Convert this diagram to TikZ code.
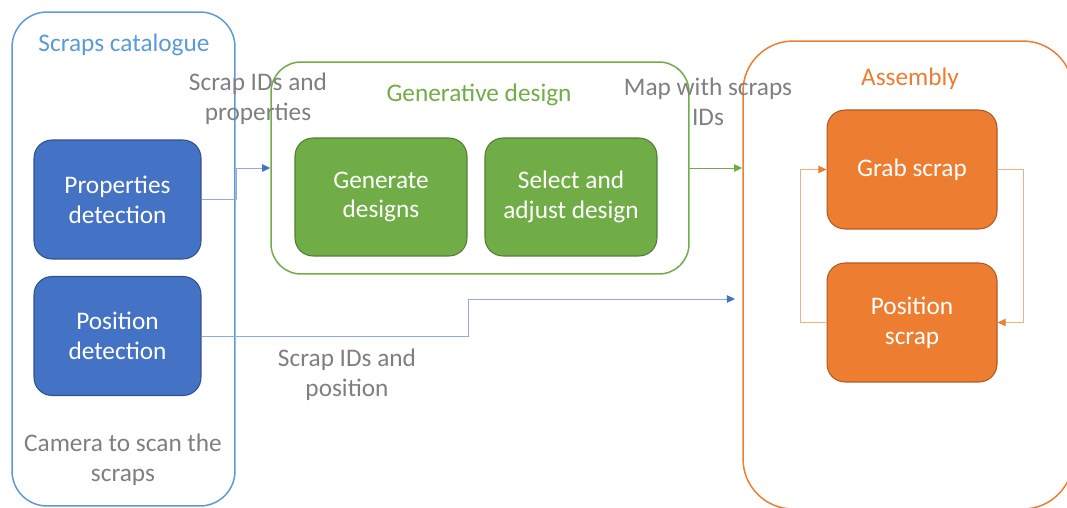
\documentclass[tikz,border=0pt]{standalone}
\usepackage{fontspec}
\setmainfont{Carlito}
\usetikzlibrary{arrows.meta}
\definecolor{catblue}{HTML}{5B9BD5}
\definecolor{bfill}{HTML}{4472C4}
\definecolor{bdraw}{HTML}{2F528F}
\definecolor{gfill}{HTML}{70AD47}
\definecolor{gdraw}{HTML}{507E32}
\definecolor{ofill}{HTML}{ED7D31}
\definecolor{odraw}{HTML}{AE5A21}
\definecolor{lorange}{HTML}{F4B183}
\definecolor{lblue}{HTML}{8FAADC}
\definecolor{labgray}{HTML}{7F7F7F}
\begin{document}
\begin{tikzpicture}[x=0.02cm,y=-0.02cm,
  font=\fontsize{14.4}{17}\selectfont,
  container/.style={draw, line width=0.85pt, inner sep=0pt},
  boxnode/.style={line width=0.6pt, rounded corners=0.36cm, text=white, align=center, inner sep=0pt},
  bluebox/.style={boxnode, fill=bfill, draw=bdraw, minimum width=3.34cm, minimum height=2.38cm},
  greenbox/.style={boxnode, fill=gfill, draw=gdraw, minimum width=3.44cm, minimum height=2.36cm},
  orangebox/.style={boxnode, fill=ofill, draw=odraw, minimum width=3.4cm, minimum height=2.38cm},
  label/.style={text=labgray, align=center, inner sep=0pt},
  conn/.style={line width=0.55pt, -{Triangle[length=4.6pt,width=4.2pt]}},
]
\useasboundingbox (0,0) rectangle (1067,507);

% containers
\node[container, draw=catblue, minimum width=4.46cm, minimum height=9.88cm, rounded corners=0.7cm] (cat) at (123.5,259) {};
\node[container, draw=gfill, minimum width=8.36cm, minimum height=4.24cm, rounded corners=0.6cm] (gen) at (480,168) {};
\node[container, draw=ofill, minimum width=6.6cm, minimum height=9.36cm, rounded corners=1.0cm] (asm) at (908,275) {};

% titles
\node[text=catblue, inner sep=0pt] (cattitle) at (124,45) {Scraps catalogue};
\node[text=gfill, inner sep=0pt] (gentitle) at (479,95) {Generative design};
\node[text=ofill, inner sep=0pt] (asmtitle) at (910,79) {Assembly};

% boxes
\node[bluebox] (prop) at (117.5,199.5) {Properties\\detection};
\node[bluebox] (pos) at (117.5,336) {Position\\detection};
\node[greenbox] (gendes) at (381,197) {Generate\\designs};
\node[greenbox] (sel) at (571,197) {Select and\\adjust design};
\node[orangebox] (grab) at (912,169.5) {Grab scrap};
\node[orangebox] (posscr) at (912,322.5) {Position\\scrap};

% labels
\node[label] (camlab) at (123,460) {Camera to scan the\\scraps};
\node[label] (proplab) at (258,99) {Scrap IDs and\\properties};
\node[label] (maplab) at (708,102) {Map with scraps\\IDs};
\node[label] (poslab) at (347,375) {Scrap IDs and\\position};

% connectors
\coordinate (posend) at (735,299);
\draw[conn, draw=lblue, -{Triangle[length=4.6pt,width=4.2pt,color=bfill]}] (prop.east) -- ++(35,0) |- (gen.west);
\draw[conn, draw=gfill] (gen.east) -- (gen.east -| asm.west);
\draw[conn, draw=lblue, -{Triangle[length=4.6pt,width=4.2pt,color=bfill]}] (pos.east) -- ++(267,0) |- (posend);
\draw[conn, draw=lorange, -{Triangle[length=4.6pt,width=4.2pt,color=ofill]}] (grab.east) -- ++(26,0) |- (posscr.east);
\draw[conn, draw=lorange, -{Triangle[length=4.6pt,width=4.2pt,color=ofill]}] (posscr.west) -- ++(-26,0) |- (grab.west);
\end{tikzpicture}
\end{document}
